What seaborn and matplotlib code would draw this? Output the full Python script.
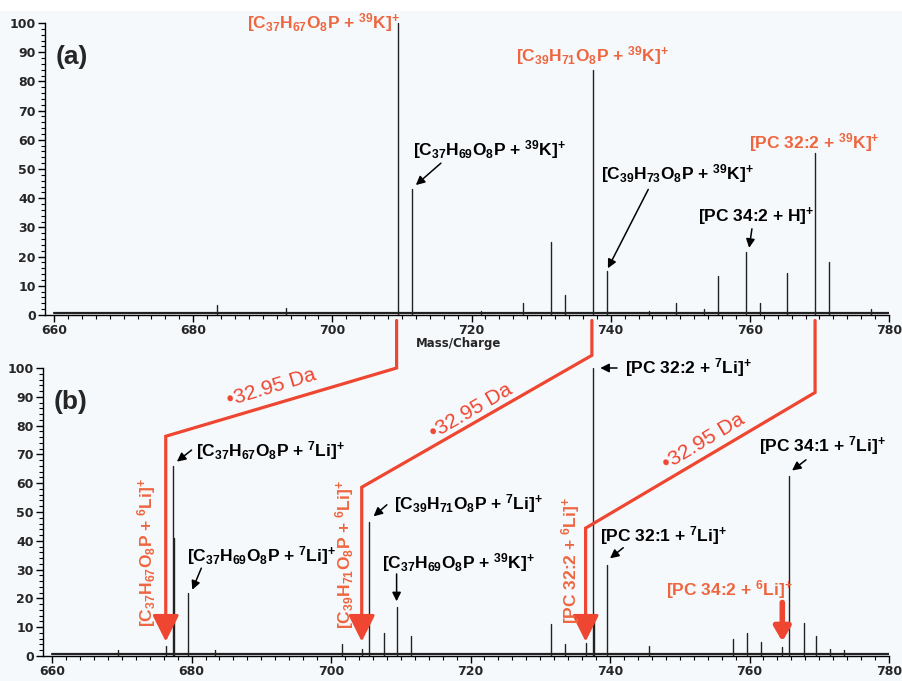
import numpy as np
import pandas as pd
import matplotlib
matplotlib.use("Agg")
import matplotlib.pyplot as plt
import seaborn as sns
from matplotlib.ticker import MultipleLocator
from matplotlib.patches import Rectangle

# ---------------- data ----------------
mz_a = [683.4, 693.4, 709.4, 711.4, 721.4, 727.4, 731.4, 733.4, 737.4, 739.4,
        745.5, 749.4, 753.4, 755.4, 759.5, 761.5, 765.4, 769.4, 771.4, 777.4]
int_a = [3.5, 2.5, 100, 43, 1.5, 4, 25, 7, 84, 15,
         1.5, 4, 2, 13.5, 21.5, 4, 14.5, 55.5, 18, 2]

mz_b = [669.4, 676.4, 677.4, 677.55, 679.5, 683.4, 701.5, 704.4, 705.5, 707.6,
        709.4, 711.5, 731.5, 733.5, 736.5, 737.5, 737.65, 739.6, 745.6, 757.6,
        759.6, 761.6, 764.6, 765.6, 767.8, 769.6, 771.6, 773.6]
int_b = [2, 3.5, 66, 41, 22, 2, 4, 2.5, 46.5, 8,
         17, 7, 11, 4, 4.5, 100, 13, 31.5, 3.5, 6,
         8, 4.7, 3, 62.5, 11.5, 7, 2.5, 2]

baseline_a = 0.8
baseline_b = 0.6

x_ticks = [660, 680, 700, 720, 740, 760, 780]
y_ticks = [0, 10, 20, 30, 40, 50, 60, 70, 80, 90, 100]

lab_top_orange = [r"[C$_{37}$H$_{67}$O$_{8}$P + $^{39}$K]$^{+}$",
                  r"[C$_{39}$H$_{71}$O$_{8}$P + $^{39}$K]$^{+}$",
                  r"[PC 32:2 + $^{39}$K]$^{+}$"]
lab_top_black = [r"[C$_{37}$H$_{69}$O$_{8}$P + $^{39}$K]$^{+}$",
                 r"[C$_{39}$H$_{73}$O$_{8}$P + $^{39}$K]$^{+}$",
                 r"[PC 34:2 + H]$^{+}$"]
lab_bot_black = [r"[C$_{37}$H$_{67}$O$_{8}$P + $^{7}$Li]$^{+}$",
                 r"[C$_{37}$H$_{69}$O$_{8}$P + $^{7}$Li]$^{+}$",
                 r"[C$_{39}$H$_{71}$O$_{8}$P + $^{7}$Li]$^{+}$",
                 r"[C$_{37}$H$_{69}$O$_{8}$P + $^{39}$K]$^{+}$",
                 r"[PC 32:2 + $^{7}$Li]$^{+}$",
                 r"[PC 34:1 + $^{7}$Li]$^{+}$",
                 r"[PC 32:1 + $^{7}$Li]$^{+}$"]
lab_bot_orange = [r"[C$_{37}$H$_{67}$O$_{8}$P + $^{6}$Li]$^{+}$",
                  r"[C$_{39}$H$_{71}$O$_{8}$P + $^{6}$Li]$^{+}$",
                  r"[PC 32:2 + $^{6}$Li]$^{+}$",
                  r"[PC 34:2 + $^{6}$Li]$^{+}$"]
shift_label = "\u202232.95 Da"

# ---------------- style ----------------
sns.set_style("ticks")
plt.rcParams["font.family"] = ["Liberation Sans", "DejaVu Sans"]
plt.rcParams["mathtext.default"] = "regular"
plt.rcParams["mathtext.fontset"] = "custom"

BG = "#f6f9fc"
RED = "#ee4630"
ORANGE = "#ee6640"
INK = "#222222"

fig = plt.figure(figsize=(9.03, 6.81), dpi=100, facecolor=BG)
fig.patches.append(Rectangle((0, 1 - 11 / 681), 1, 11 / 681, transform=fig.transFigure,
                             facecolor="white", edgecolor="none", zorder=-5))
ax_a = fig.add_axes([45 / 903, 1 - 315 / 681, 844 / 903, 292 / 681])
ax_b = fig.add_axes([43 / 903, 1 - 656 / 681, 846 / 903, 288 / 681])


def stick_frame(mz, inten):
    rows = []
    for i, (m, h) in enumerate(zip(mz, inten)):
        rows.append((i, m, 0.0))
        rows.append((i, m, h))
    return pd.DataFrame(rows, columns=["peak", "mz", "intensity"])


for ax, mz, inten, base in [(ax_a, mz_a, int_a, baseline_a), (ax_b, mz_b, int_b, baseline_b)]:
    ax.set_facecolor(BG)
    sns.lineplot(x=[660, 780], y=[base, base], ax=ax, color=INK, lw=1.6, zorder=2)
    df = stick_frame(mz, inten)
    sns.lineplot(data=df, x="mz", y="intensity", units="peak", estimator=None,
                 sort=False, ax=ax, color=INK, lw=1.0, zorder=3)
    ax.set_xlim(658.7, 780)
    ax.set_ylim(0, 100)
    ax.set_xticks(x_ticks)
    ax.set_yticks(y_ticks)
    ax.xaxis.set_minor_locator(MultipleLocator(2))
    ax.yaxis.set_minor_locator(MultipleLocator(2))
    ax.tick_params(which="major", length=5, width=1, color="black", pad=1.5,
                   labelsize=9)
    ax.tick_params(which="minor", length=3, width=0.8, color="black")
    for lbl in ax.get_xticklabels() + ax.get_yticklabels():
        lbl.set_fontfamily("DejaVu Sans")
        lbl.set_fontweight("bold")
    ax.set_xlabel("")
    ax.set_ylabel("")
    sns.despine(ax=ax)
    for s in ["left", "bottom"]:
        ax.spines[s].set_linewidth(1.0)
        ax.spines[s].set_color("black")

fig.text(459 / 903, 1 - 343 / 681, "Mass/Charge", ha="center", va="center",
         fontsize=8.5, fontweight="bold", family="DejaVu Sans")
fig.text(72 / 903, 1 - 57 / 681, "(a)", ha="center", va="center", fontsize=19, fontweight="bold")
fig.text(71 / 903, 1 - 402 / 681, "(b)", ha="center", va="center", fontsize=19, fontweight="bold")

FS = 12.5


def label(ax, x, y, s, color="black", ha="center", rot=0):
    ax.text(x, y, s, color=color, ha=ha, va="center", rotation=rot, fontsize=FS,
            fontweight="bold", clip_on=False, zorder=6)


def arrow(ax, tail, head):
    ax.annotate("", xy=head, xytext=tail,
                arrowprops=dict(arrowstyle="-|>", color="black", lw=1.1,
                                mutation_scale=13, shrinkA=0, shrinkB=0),
                annotation_clip=False, zorder=6)


# ---- panel (a) labels ----
label(ax_a, 709.7, 100, lab_top_orange[0], ORANGE, ha="right")
label(ax_a, 737.4, 89, lab_top_orange[1], ORANGE)
label(ax_a, 769.3, 59.2, lab_top_orange[2], ORANGE)
label(ax_a, 722.6, 56.5, lab_top_black[0])
arrow(ax_a, (715.6, 52), (712.0, 44.5))
label(ax_a, 749.6, 48.6, lab_top_black[1])
arrow(ax_a, (745.4, 43), (739.6, 16))
label(ax_a, 760.9, 33.6, lab_top_black[2])
arrow(ax_a, (760.3, 29.5), (759.9, 23))

# ---- panel (b) labels ----
label(ax_b, 680.7, 71.5, lab_bot_black[0], ha="left")
arrow(ax_b, (680.0, 71.5), (677.9, 67.5))
label(ax_b, 679.4, 34.9, lab_bot_black[1], ha="left")
arrow(ax_b, (681.4, 30.5), (680.1, 23))
label(ax_b, 709.0, 52.9, lab_bot_black[2], ha="left")
arrow(ax_b, (708.0, 52.5), (706.1, 48.5))
label(ax_b, 707.3, 32.5, lab_bot_black[3], ha="left")
arrow(ax_b, (709.4, 28.5), (709.4, 19))
label(ax_b, 742.1, 100, lab_bot_black[4], ha="left")
arrow(ax_b, (741.0, 100), (738.6, 100))
label(ax_b, 770.4, 72.9, lab_bot_black[5])
arrow(ax_b, (768.1, 68.1), (766.1, 64.4))
label(ax_b, 738.6, 41.7, lab_bot_black[6], ha="left")
arrow(ax_b, (741.9, 37.6), (740.0, 33.9))

label(ax_b, 673.6, 35.9, lab_bot_orange[0], ORANGE, rot=90)
label(ax_b, 701.9, 35.3, lab_bot_orange[1], ORANGE, rot=90)
label(ax_b, 734.3, 33.2, lab_bot_orange[2], ORANGE, rot=90)
label(ax_b, 748.0, 23, lab_bot_orange[3], ORANGE, ha="left")

# ---- 32.95 Da connectors ----
connectors = [((709.4, 116.5), (709.4, 100.0), (676.3, 76.3)),
              ((737.4, 116.5), (737.4, 104.4), (704.4, 58.6)),
              ((769.4, 116.5), (769.4, 91.5), (736.5, 44.4))]
for p0, p1, p2 in connectors:
    ax_b.plot([p0[0], p1[0], p2[0], p2[0]], [p0[1], p1[1], p2[1], 10], color=RED,
              lw=2.3, clip_on=False, zorder=5, solid_joinstyle="miter")
    ax_b.annotate("", xy=(p2[0], 5), xytext=(p2[0], 12),
                  arrowprops=dict(arrowstyle="-|>,head_length=0.9,head_width=0.45",
                                  color=RED, lw=2.3, mutation_scale=18,
                                  shrinkA=0, shrinkB=0),
                  annotation_clip=False, zorder=5)
ax_b.annotate("", xy=(764.7, 5), xytext=(764.7, 18.6),
              arrowprops=dict(arrowstyle="-|>,head_length=0.6,head_width=0.35",
                              color=RED, lw=4, mutation_scale=14,
                              shrinkA=0, shrinkB=0),
              annotation_clip=False, zorder=5)

for (x, y, rot) in [(691.4, 93.2, 16.7), (720.1, 85.1, 30.1), (753.4, 74.6, 31.0)]:
    ax_b.text(x, y, shift_label, color=RED, fontsize=15, rotation=rot,
              rotation_mode="anchor", ha="center", va="center", clip_on=False, zorder=6)

fig.savefig("out.png", dpi=100, facecolor=fig.get_facecolor())
